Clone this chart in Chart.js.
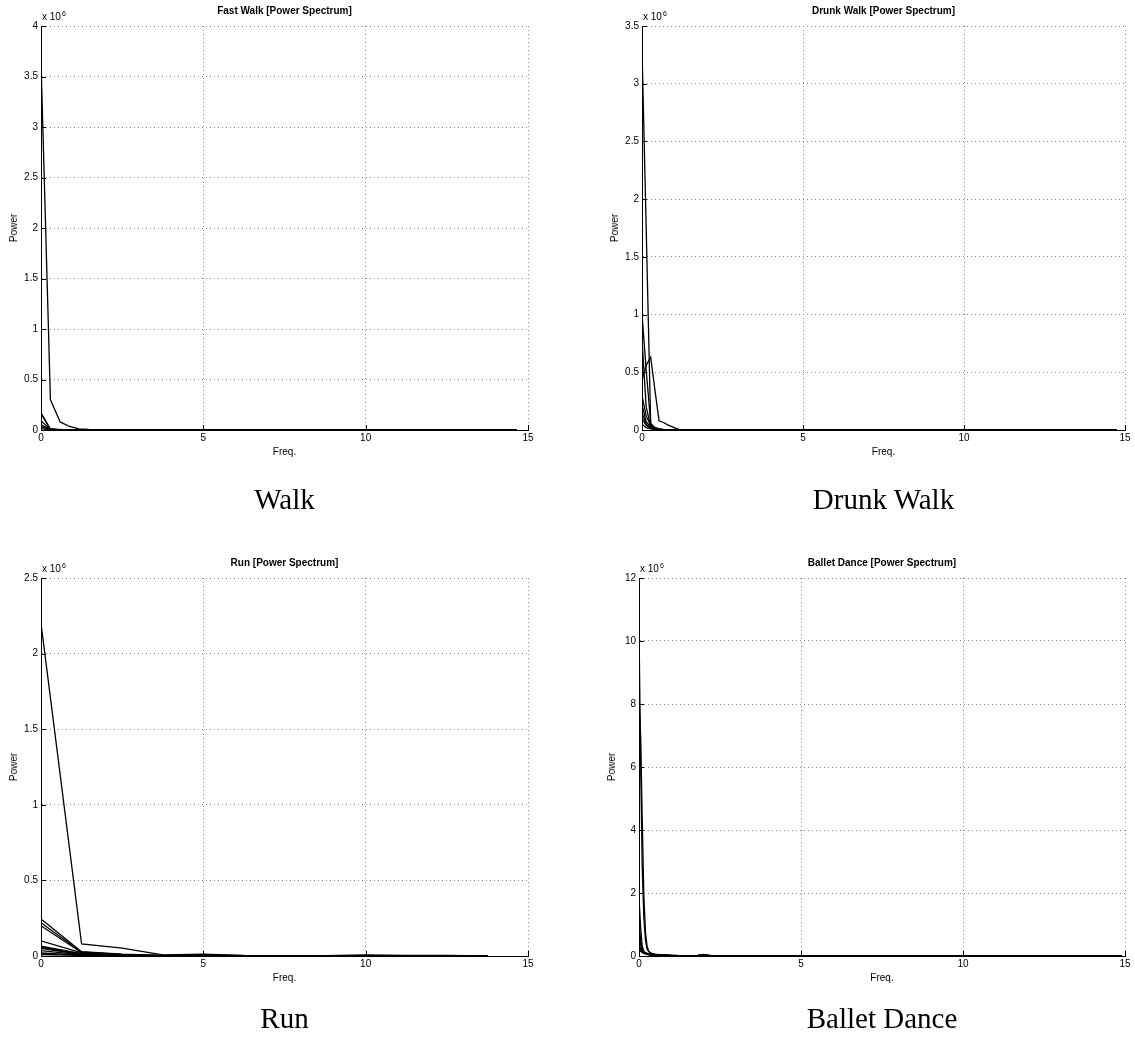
<!DOCTYPE html>
<html><head><meta charset="utf-8">
<script src="https://cdn.jsdelivr.net/npm/chart.js@4.4.1/dist/chart.umd.min.js"></script>
<style>
html,body{margin:0;padding:0;background:#fff;}
body{width:1135px;height:1039px;position:relative;overflow:hidden;font-family:"Liberation Sans",Arial,Helvetica,sans-serif;color:#000;}
canvas{position:absolute;}
.t{position:absolute;white-space:nowrap;line-height:12px;font-size:10px;}
.title{font-weight:bold;transform:translateX(-50%);}
.xl{transform:translateX(-50%);}
.yl{transform:translate(-50%,-50%) rotate(-90deg);}
.exp sup{font-size:7px;position:relative;top:-3px;vertical-align:top;margin-left:1px;}
.cap{position:absolute;white-space:nowrap;font-family:"Liberation Serif","Times New Roman",serif;font-size:29px;line-height:34px;transform:translate(-50%,-50%);}
</style></head><body>
<script>
// ---------- DATA (values in units of 10^6) ----------
const xTicks = [0, 5, 10, 15];

// Fast Walk
const fwFreq = [0, 0.29, 0.59, 0.88, 1.17, 1.47, 1.76, 2.05, 14.66];
const fw1 = [3.65, 0.30, 0.08, 0.035, 0.012, 0.005, 0.002, 0.001, 0];
const fw2 = [0.17, 0.006, 0.002, 0.001, 0, 0, 0, 0, 0];
const fw3 = [0.16, 0.010, 0.004, 0.001, 0, 0, 0, 0, 0];
const fw4 = [0.09, 0.008, 0.002, 0, 0, 0, 0, 0, 0];
const fw5 = [0.05, 0.010, 0.003, 0.001, 0, 0, 0, 0, 0];
const fw6 = [0.03, 0.005, 0.001, 0, 0, 0, 0, 0, 0];
const fw7 = [0.012, 0.004, 0.001, 0, 0, 0, 0, 0, 0];
const fwYTicks = [0, 0.5, 1, 1.5, 2, 2.5, 3, 3.5, 4];

// Drunk Walk
const dwFreq = [0, 0.13, 0.27, 0.40, 0.53, 0.67, 0.80, 0.93, 1.07, 1.20, 14.75];
const dw1 = [3.3, 1.75, 0.05, 0.02, 0.01, 0.005, 0.002, 0, 0, 0, 0];
const dw2 = [0.43, 0.56, 0.63, 0.35, 0.08, 0.065, 0.045, 0.03, 0.012, 0.002, 0];
const dw3 = [1.0, 0.52, 0.06, 0.015, 0.005, 0, 0, 0, 0, 0, 0];
const dw4 = [0.78, 0.20, 0.03, 0.01, 0, 0, 0, 0, 0, 0, 0];
const dw5 = [0.30, 0.12, 0.04, 0.02, 0.01, 0, 0, 0, 0, 0, 0];
const dw6 = [0.22, 0.07, 0.03, 0.015, 0.005, 0, 0, 0, 0, 0, 0];
const dw7 = [0.15, 0.05, 0.02, 0.01, 0, 0, 0, 0, 0, 0, 0];
const dw8 = [0.10, 0.04, 0.015, 0.005, 0, 0, 0, 0, 0, 0, 0];
const dw9 = [0.05, 0.02, 0.01, 0, 0, 0, 0, 0, 0, 0, 0];
const dwYTicks = [0, 0.5, 1, 1.5, 2, 2.5, 3, 3.5];

// Run
const rFreq = [0, 1.25, 2.5, 3.75, 5, 6.25, 7.5, 8.75, 10, 11.25, 12.5, 13.75];
const r1 = [2.2, 0.08, 0.052, 0.007, 0.013, 0.004, 0.002, 0.003, 0.008, 0.004, 0.004, 0.001];
const r2 = [0.245, 0.028, 0.012, 0.004, 0.005, 0.002, 0.001, 0.001, 0.002, 0.001, 0.001, 0];
const r3 = [0.22, 0.025, 0.010, 0.003, 0.004, 0.001, 0, 0, 0.001, 0, 0, 0];
const r4 = [0.20, 0.022, 0.008, 0.003, 0.003, 0.001, 0, 0, 0, 0, 0, 0];
const r5 = [0.10, 0.020, 0.006, 0.002, 0.002, 0.001, 0, 0, 0, 0, 0, 0];
const r6 = [0.066, 0.015, 0.005, 0.001, 0.001, 0, 0, 0, 0, 0, 0, 0];
const r7 = [0.060, 0.013, 0.004, 0.001, 0, 0, 0, 0, 0, 0, 0, 0];
const r8 = [0.055, 0.012, 0.004, 0.001, 0, 0, 0, 0, 0, 0, 0, 0];
const r9 = [0.050, 0.010, 0.003, 0, 0, 0, 0, 0, 0, 0, 0, 0];
const r10 = [0.035, 0.008, 0.002, 0, 0, 0, 0, 0, 0, 0, 0, 0];
const r11 = [0.020, 0.006, 0.002, 0, 0, 0, 0, 0, 0, 0, 0, 0];
const r12 = [0.010, 0.004, 0.001, 0, 0, 0, 0, 0, 0, 0, 0, 0];
const rYTicks = [0, 0.5, 1, 1.5, 2, 2.5];

// Ballet Dance
const bFreq = [0, 0.05, 0.1, 0.15, 0.2, 0.25, 0.3, 0.35, 0.4, 0.5, 0.6, 0.8, 1.0, 1.2, 1.5, 1.8, 2.0, 2.2, 2.5, 3.0, 14.9];
const b1 = [10.4, 6.2, 2.8, 1.2, 0.5, 0.22, 0.14, 0.10, 0.08, 0.06, 0.05, 0.04, 0.03, 0.02, 0.015, 0.02, 0.05, 0.02, 0.01, 0.005, 0];
const b2 = [8.2, 7.0, 4.3, 1.9, 0.75, 0.30, 0.15, 0.10, 0.07, 0.05, 0.04, 0.03, 0.02, 0.015, 0.01, 0.02, 0.04, 0.015, 0.005, 0.002, 0];
const b3 = [1.85, 0.9, 0.30, 0.15, 0.10, 0.08, 0.06, 0.05, 0.04, 0.03, 0.02, 0.02, 0.01, 0.01, 0.005, 0.01, 0.02, 0.01, 0.005, 0, 0];
const b4 = [1.2, 0.5, 0.20, 0.10, 0.08, 0.06, 0.05, 0.04, 0.03, 0.02, 0.015, 0.01, 0.01, 0.005, 0.005, 0.005, 0.01, 0.005, 0, 0, 0];
const b5 = [0.7, 0.35, 0.15, 0.12, 0.10, 0.08, 0.06, 0.05, 0.04, 0.03, 0.02, 0.01, 0.005, 0, 0, 0, 0, 0, 0, 0, 0];
const b6 = [0.4, 0.20, 0.10, 0.08, 0.06, 0.05, 0.04, 0.03, 0.02, 0.01, 0.01, 0.005, 0, 0, 0, 0, 0, 0, 0, 0, 0];
const b7 = [0.2, 0.15, 0.12, 0.10, 0.08, 0.06, 0.05, 0.04, 0.03, 0.02, 0.01, 0.005, 0, 0, 0, 0, 0, 0, 0, 0, 0];
const bYTicks = [0, 2, 4, 6, 8, 10, 12];

// ---------- PANELS ----------
const panels = [
  {title:'Fast Walk [Power Spectrum]', caption:'Walk', L:41, R:528, T:26, B:430, freq:fwFreq,
   series:[fw1,fw2,fw3,fw4,fw5,fw6,fw7], yTicks:fwYTicks, capY:499},
  {title:'Drunk Walk [Power Spectrum]', caption:'Drunk Walk', L:642, R:1125, T:26, B:430, freq:dwFreq,
   series:[dw1,dw2,dw3,dw4,dw5,dw6,dw7,dw8,dw9], yTicks:dwYTicks, capY:499},
  {title:'Run [Power Spectrum]', caption:'Run', L:41, R:528, T:578, B:956, freq:rFreq,
   series:[r1,r2,r3,r4,r5,r6,r7,r8,r9,r10,r11,r12], yTicks:rYTicks, capY:1018},
  {title:'Ballet Dance [Power Spectrum]', caption:'Ballet Dance', L:639, R:1125, T:578, B:956, freq:bFreq,
   series:[b1,b2,b3,b4,b5,b6,b7], yTicks:bYTicks, capY:1018}
];

const inTicks = {
  id:'inTicks',
  afterDraw(chart){
    const {ctx, chartArea:a, scales:{x,y}} = chart;
    ctx.save();
    ctx.strokeStyle='#000'; ctx.lineWidth=1;
    ctx.beginPath();
    x.ticks.forEach(t=>{const px=Math.round(x.getPixelForValue(t.value))+0.5; ctx.moveTo(px,a.bottom); ctx.lineTo(px,a.bottom-5);});
    y.ticks.forEach(t=>{const py=Math.round(y.getPixelForValue(t.value))+0.5; ctx.moveTo(a.left,py); ctx.lineTo(a.left+5,py);});
    ctx.stroke();
    ctx.restore();
  }
};

function addText(cls, html, left, top){
  const d=document.createElement('div');
  d.className=cls; d.innerHTML=html;
  d.style.left=left+'px'; d.style.top=top+'px';
  document.body.appendChild(d);
  return d;
}

panels.forEach(p=>{
  const padL=41, padT=16, padR=14, padB=20;
  const cv=document.createElement('canvas');
  const W=p.R-p.L+padL+padR, H=p.B-p.T+padT+padB;
  cv.width=W; cv.height=H;
  cv.style.left=(p.L-padL)+'px'; cv.style.top=(p.T-padT)+'px';
  cv.style.width=W+'px'; cv.style.height=H+'px';
  document.body.appendChild(cv);
  const yMax=p.yTicks[p.yTicks.length-1];
  new Chart(cv,{
    type:'scatter',
    data:{datasets:p.series.map(s=>({
      data:s.map((v,i)=>({x:p.freq[i], y:v})),
      showLine:true, borderColor:'#000', borderWidth:1.3, pointRadius:0, tension:0, fill:false
    }))},
    options:{
      responsive:false, animation:false, devicePixelRatio:1,
      layout:{padding:{left:0, top:padT, right:padR, bottom:0}},
      plugins:{legend:{display:false}, tooltip:{enabled:false}, title:{display:false}},
      scales:{
        x:{type:'linear', min:0, max:15, offset:false,
           afterBuildTicks:s=>{s.ticks=xTicks.map(v=>({value:v}));},
           afterFit:s=>{s.height=padB;},
           grid:{color:'#8a8a8a', lineWidth:1, drawTicks:false},
           border:{display:true, color:'#000', width:1, dash:[1,3]},
           ticks:{color:'#000', font:{family:'"Liberation Sans", Arial', size:10}, padding:2, maxRotation:0,
                  callback:v=>String(v)}},
        y:{type:'linear', min:0, max:yMax,
           afterBuildTicks:s=>{s.ticks=p.yTicks.map(v=>({value:v}));},
           afterFit:s=>{s.width=padL;},
           grid:{color:'#8a8a8a', lineWidth:1, drawTicks:false},
           border:{display:true, color:'#000', width:1, dash:[1,3]},
           ticks:{color:'#000', font:{family:'"Liberation Sans", Arial', size:10}, padding:3,
                  callback:v=>String(v)}}
      }
    },
    plugins:[inTicks]
  });
  const cx=(p.L+p.R)/2;
  addText('t title', p.title, cx, p.T-21.5);
  addText('t xl', 'Freq.', cx, p.B+16);
  addText('t yl', 'Power', p.L-27, (p.T+p.B)/2);
  addText('t exp', 'x 10<sup>6</sup>', p.L+1, p.T-15.5);
  addText('cap', p.caption, cx, p.capY);
});
</script>
</body></html>
